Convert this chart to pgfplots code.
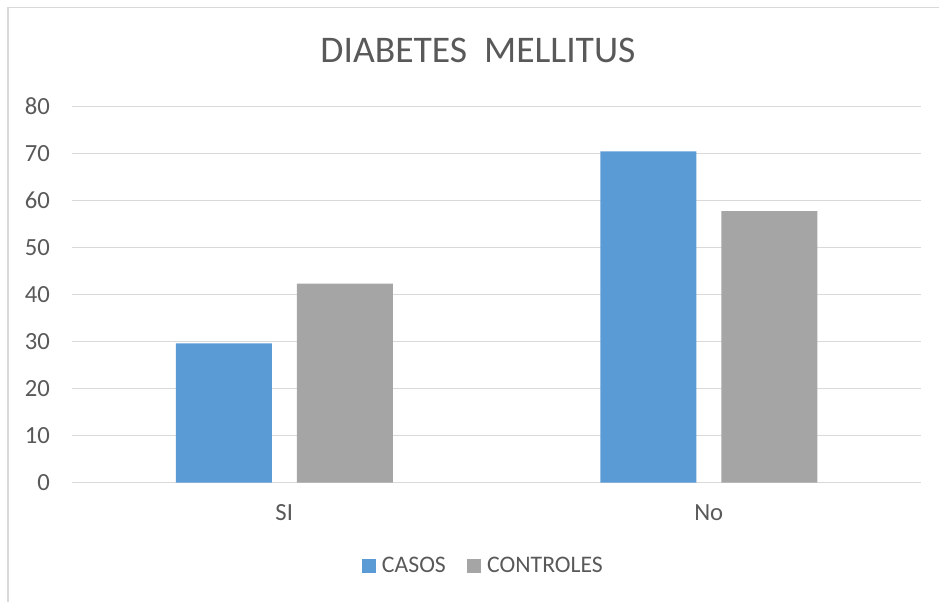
\documentclass[border=0pt]{standalone}
\usepackage{pgfplots}
\pgfplotsset{compat=1.18}
\usepackage{fontspec}
\setmainfont{Carlito}

\definecolor{casos}{HTML}{5B9BD5}
\definecolor{controles}{HTML}{A5A5A5}
\definecolor{gridc}{HTML}{D9D9D9}
\definecolor{txt}{HTML}{595959}

\begin{document}
\begin{tikzpicture}[x=0.75pt,y=0.75pt]
    % page of 939 x 601 px, y counted from the bottom
    \useasboundingbox (0,0) rectangle (939,601);
    \draw[gridc, line width=1.1pt] (8,-40) -- (8,593.5) -- (960,593.5);

    \node[txt, font=\fontsize{28.2}{33}\selectfont] at (478,551) {DIABETES\ \ MELLITUS};

    \begin{axis}[
        at={(72pt*0.75,118.3pt*0.75)}, anchor=south west,
        scale only axis,
        width=636.75pt, height=282.3pt,
        ybar=18.75pt, bar width=72pt,
        xmin=-0.5, xmax=1.5,
        ymin=0, ymax=80,
        ytick={0,10,...,80},
        xtick={0,1},
        xticklabels={SI,No},
        ymajorgrids,
        grid style={gridc, line width=1.1pt},
        axis line style={draw=none},
        axis x line*=bottom,
        axis y line*=left,
        x axis line style={draw=gridc, line width=1.1pt},
        major tick length=0pt,
        tick label style={txt, font=\fontsize{18.5}{22}\selectfont},
        /pgf/number format/assume math mode=true,
        yticklabel style={xshift=-13pt},
        xticklabel style={yshift=-13pt},
        legend columns=2,
        legend style={
            at={(0.485,-0.222)}, anchor=center,
            draw=none, fill=none,
            font=\fontsize{17.8}{21}\selectfont, text=txt,
            /tikz/every even column/.append style={column sep=14pt},
        },
        legend image code/.code={
            \fill[#1] (0pt,-5.2pt) rectangle (10.5pt,5.3pt);
            \path (13pt,0pt);
        },
    ]
    \addplot[fill=casos, draw=none] coordinates {(0,29.6) (1,70.4)};
    \addlegendentry{CASOS}
    \addplot[fill=controles, draw=none] coordinates {(0,42.3) (1,57.7)};
    \addlegendentry{CONTROLES}
    \end{axis}
\end{tikzpicture}
\end{document}
